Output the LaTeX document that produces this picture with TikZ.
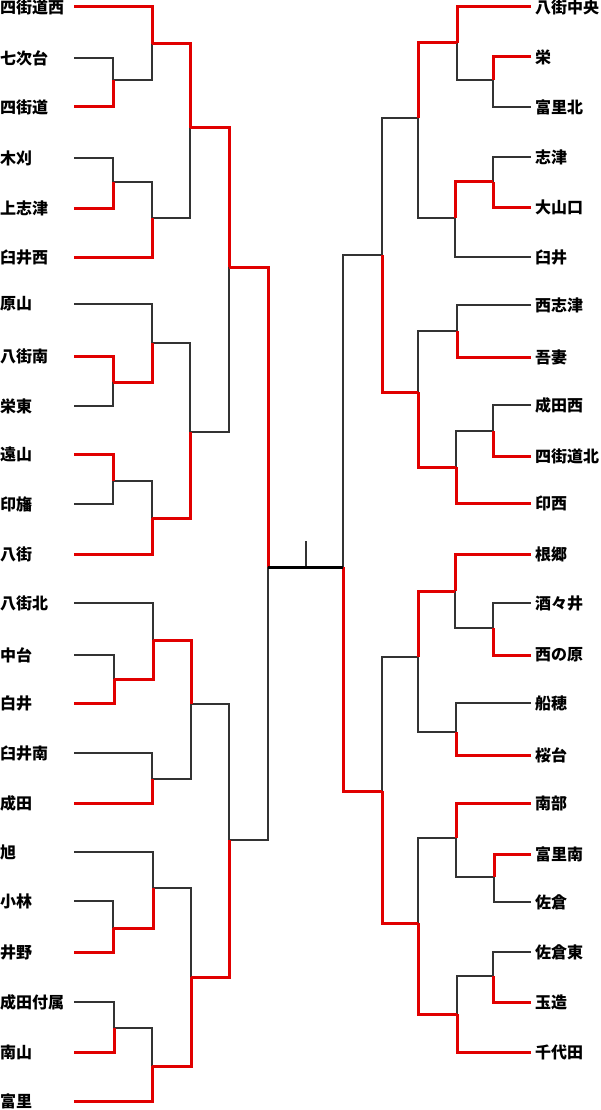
\documentclass[tikz,border=0pt]{standalone}
\usepackage{fontspec}
\setmainfont{Noto Sans CJK JP}
\definecolor{winred}{RGB}{225,0,0}

\begin{document}
\begin{tikzpicture}[x=1pt, y=-1pt,
        lteam/.style={anchor=west, inner sep=0pt, text width=74pt, align=left,
            font=\fontsize{16}{16}\selectfont\bfseries},
        rteam/.style={anchor=west, inner ysep=0pt, inner xsep=4pt, text width=65pt, align=left,
            font=\fontsize{16}{16}\selectfont\bfseries},
        lose/.style={draw=black!80, line width=1.2pt},
        win/.style={draw=winred, line width=3pt}]
    \useasboundingbox (0,0) rectangle (600,1110);

    \node[lteam] (l1)  at (0,7)    {四街道西};
    \node[lteam] (l2)  at (0,58)   {七次台};
    \node[lteam] (l3)  at (0,107)  {四街道};
    \node[lteam] (l4)  at (0,158)  {木刈};
    \node[lteam] (l5)  at (0,208)  {上志津};
    \node[lteam] (l6)  at (0,257)  {臼井西};
    \node[lteam] (l7)  at (0,304)  {原山};
    \node[lteam] (l8)  at (0,356)  {八街南};
    \node[lteam] (l9)  at (0,406)  {栄東};
    \node[lteam] (l10) at (0,454)  {遠山};
    \node[lteam] (l11) at (0,504)  {印旛};
    \node[lteam] (l12) at (0,554)  {八街};
    \node[lteam] (l13) at (0,603)  {八街北};
    \node[lteam] (l14) at (0,655)  {中台};
    \node[lteam] (l15) at (0,703)  {白井};
    \node[lteam] (l16) at (0,753)  {臼井南};
    \node[lteam] (l17) at (0,803)  {成田};
    \node[lteam] (l18) at (0,852)  {旭};
    \node[lteam] (l19) at (0,901)  {小林};
    \node[lteam] (l20) at (0,952)  {井野};
    \node[lteam] (l21) at (0,1002) {成田付属};
    \node[lteam] (l22) at (0,1052) {南山};
    \node[lteam] (l23) at (0,1101) {富里};

    \node[rteam] (r1)  at (531,7)    {八街中央};
    \node[rteam] (r2)  at (531,57)   {栄};
    \node[rteam] (r3)  at (531,107)  {富里北};
    \node[rteam] (r4)  at (531,157)  {志津};
    \node[rteam] (r5)  at (531,207)  {大山口};
    \node[rteam] (r6)  at (531,257)  {臼井};
    \node[rteam] (r7)  at (531,305)  {西志津};
    \node[rteam] (r8)  at (531,357)  {吾妻};
    \node[rteam] (r9)  at (531,405)  {成田西};
    \node[rteam] (r10) at (531,456)  {四街道北};
    \node[rteam] (r11) at (531,503)  {印西};
    \node[rteam] (r12) at (531,554)  {根郷};
    \node[rteam] (r13) at (531,603)  {酒々井};
    \node[rteam] (r14) at (531,655)  {西の原};
    \node[rteam] (r15) at (531,703)  {船穂};
    \node[rteam] (r16) at (531,755)  {桜台};
    \node[rteam] (r17) at (531,803)  {南部};
    \node[rteam] (r18) at (531,854)  {富里南};
    \node[rteam] (r19) at (531,902)  {佐倉};
    \node[rteam] (r20) at (531,952)  {佐倉東};
    \node[rteam] (r21) at (531,1002) {玉造};
    \node[rteam] (r22) at (531,1052) {千代田};

    \coordinate (la1) at (113,80);
    \coordinate (la2) at (113,182);
    \coordinate (la3) at (113,382);
    \coordinate (la4) at (113,481);
    \coordinate (la5) at (114,679);
    \coordinate (la6) at (113,928);
    \coordinate (la7) at (114,1028);
    \coordinate (lb1) at (152,44);
    \coordinate (lb2) at (152,218);
    \coordinate (lb3) at (152,343);
    \coordinate (lb4) at (152,518);
    \coordinate (lb5) at (153,640);
    \coordinate (lb6) at (152,779);
    \coordinate (lb7) at (153,888);
    \coordinate (lb8) at (152,1066);
    \coordinate (lc1) at (190,128);
    \coordinate (lc2) at (190,432);
    \coordinate (lc3) at (191,704);
    \coordinate (lc4) at (191,977);
    \coordinate (ld1) at (229,267);
    \coordinate (ld2) at (229,840);
    \coordinate (le1) at (268,567);

    \coordinate (ra1) at (493,80);
    \coordinate (ra2) at (493,182);
    \coordinate (ra3) at (493,431);
    \coordinate (ra4) at (493,628);
    \coordinate (ra5) at (494,877);
    \coordinate (ra6) at (493,976);
    \coordinate (rb1) at (457,43);
    \coordinate (rb2) at (455,218);
    \coordinate (rb3) at (457,331);
    \coordinate (rb4) at (456,467);
    \coordinate (rb5) at (455,591);
    \coordinate (rb6) at (456,732);
    \coordinate (rb7) at (456,838);
    \coordinate (rb8) at (457,1014);
    \coordinate (rc1) at (418,118);
    \coordinate (rc2) at (418,392);
    \coordinate (rc3) at (418,657);
    \coordinate (rc4) at (418,923);
    \coordinate (rd1) at (382,255);
    \coordinate (rd2) at (382,791);
    \coordinate (re1) at (343,567);
    \coordinate (champ) at (306,541);

    \draw[lose] (l2.east) -| (la1) (l4.east) -| (la2) (l9.east) -| (la3)
        (l11.east) -| (la4) (l14.east) -| (la5) (l19.east) -| (la6) (l21.east) -| (la7)
        (la1) -| (lb1) (la2) -| (lb2) (l7.east) -| (lb3) (la4) -| (lb4)
        (l13.east) -| (lb5) (l16.east) -| (lb6) (l18.east) -| (lb7) (la7) -| (lb8)
        (lb2) -| (lc1) (lb3) -| (lc2) (lb6) -| (lc3) (lb7) -| (lc4)
        (lc2) -| (ld1) (lc3) -| (ld2) (ld2) -| (le1);
    \draw[lose] (r3.west) -| (ra1) (r4.west) -| (ra2) (r9.west) -| (ra3)
        (r13.west) -| (ra4) (r19.west) -| (ra5) (r20.west) -| (ra6)
        (ra1) -| (rb1) (r6.west) -| (rb2) (r7.west) -| (rb3) (ra3) -| (rb4)
        (ra4) -| (rb5) (r15.west) -| (rb6) (ra5) -| (rb7) (ra6) -| (rb8)
        (rb2) -| (rc1) (rb3) -| (rc2) (rb6) -| (rc3) (rb7) -| (rc4)
        (rc1) -| (rd1) (rc3) -| (rd2) (rd1) -| (re1);
    \draw[lose] (champ) -- (champ |- le1);

    \draw[win] (l3.east) -| (la1) (l5.east) -| (la2) (l8.east) -| (la3)
        (l10.east) -| (la4) (l15.east) -| (la5) (l20.east) -| (la6) (l22.east) -| (la7)
        (l1.east) -| (lb1) (l6.east) -| (lb2) (la3) -| (lb3) (l12.east) -| (lb4)
        (la5) -| (lb5) (l17.east) -| (lb6) (la6) -| (lb7) (l23.east) -| (lb8)
        (lb1) -| (lc1) (lb4) -| (lc2) (lb5) -| (lc3) (lb8) -| (lc4)
        (lc1) -| (ld1) (lc4) -| (ld2) (ld1) -| (le1);
    \draw[win] (r2.west) -| (ra1) (r5.west) -| (ra2) (r10.west) -| (ra3)
        (r14.west) -| (ra4) (r18.west) -| (ra5) (r21.west) -| (ra6)
        (r1.west) -| (rb1) (ra2) -| (rb2) (r8.west) -| (rb3) (r11.west) -| (rb4)
        (r12.west) -| (rb5) (r16.west) -| (rb6) (r17.west) -| (rb7) (r22.west) -| (rb8)
        (rb1) -| (rc1) (rb4) -| (rc2) (rb5) -| (rc3) (rb8) -| (rc4)
        (rc2) -| (rd1) (rc4) -| (rd2) (rd2) -| (re1);

    \draw[line width=3pt] (le1) -- (re1);
\end{tikzpicture}
\end{document}
